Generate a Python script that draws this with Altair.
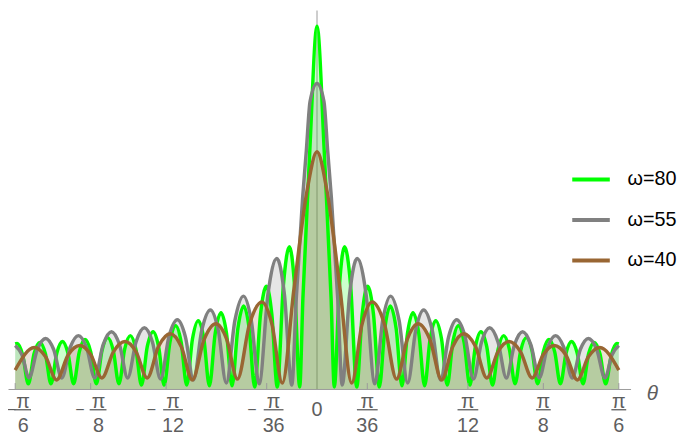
import altair as alt
import pandas as pd

# ---- curve samples (right half, theta >= 0; the plot is symmetric) ----
series_labels = ["ω=80", "ω=55", "ω=40"]
series_colors = ["#00ff00", "#808080", "#996633"]

green_theta = [0.0, 0.0130, 0.0245, 0.0300, 0.0389, 0.0478, 0.0584, 0.0689, 0.0784, 0.0878,
               0.0980, 0.1082, 0.1177, 0.1272, 0.1373, 0.1474, 0.1570, 0.1665, 0.1766, 0.1867,
               0.1963, 0.2059, 0.2160, 0.2260, 0.2356, 0.2452, 0.2552, 0.2652, 0.2748, 0.2844,
               0.2945, 0.3045, 0.3142, 0.3238, 0.3337, 0.3436, 0.3534, 0.3631, 0.3730, 0.3828,
               0.3926, 0.4024, 0.4124, 0.4223, 0.4320, 0.4416, 0.4516, 0.4615, 0.4712, 0.4809,
               0.4909, 0.5008, 0.5106, 0.5203, 0.5236]
green_value = [9.18, 5.88, 2.28, 0.05, 2.61, 3.60, 2.61, 0.05, 1.89, 2.60,
               1.89, 0.05, 1.53, 2.10, 1.53, 0.08, 1.41, 1.93, 1.41, 0.08,
               1.27, 1.73, 1.27, 0.10, 1.18, 1.60, 1.18, 0.10, 1.07, 1.45,
               1.07, 0.10, 1.00, 1.35, 1.01, 0.13, 0.97, 1.30, 0.97, 0.13,
               0.94, 1.25, 0.94, 0.13, 0.90, 1.20, 0.90, 0.13, 0.89, 1.18,
               0.89, 0.13, 0.86, 1.15, 1.14]

gray_theta = [0.0, 0.0120, 0.0185, 0.0249, 0.0360, 0.0437, 0.0566, 0.0696, 0.0850, 0.1003,
              0.1140, 0.1276, 0.1425, 0.1574, 0.1712, 0.1850, 0.1997, 0.2143, 0.2283, 0.2422,
              0.2568, 0.2714, 0.2855, 0.2995, 0.3140, 0.3285, 0.3426, 0.3566, 0.3711, 0.3856,
              0.3998, 0.4139, 0.4283, 0.4427, 0.4568, 0.4709, 0.4853, 0.4997, 0.5117, 0.5236]
gray_value = [7.73, 7.28, 6.03, 4.85, 2.28, 0.10, 2.40, 3.30, 2.41, 0.13,
              1.73, 2.35, 1.73, 0.15, 1.48, 2.00, 1.50, 0.23, 1.32, 1.75,
              1.33, 0.25, 1.19, 1.55, 1.19, 0.28, 1.12, 1.45, 1.12, 0.28,
              1.05, 1.35, 1.05, 0.28, 1.00, 1.28, 1.00, 0.28, 0.86, 1.10]

brown_theta = [0.0, 0.0171, 0.0400, 0.0602, 0.0780, 0.0958, 0.1169, 0.1380, 0.1567, 0.1754,
               0.1959, 0.2164, 0.2354, 0.2544, 0.2746, 0.2947, 0.3139, 0.3331, 0.3532, 0.3732,
               0.3925, 0.4118, 0.4318, 0.4517, 0.4711, 0.4905, 0.5236]
brown_value = [6.00, 5.03, 2.53, 0.15, 1.63, 2.20, 1.65, 0.25, 1.26, 1.65,
               1.25, 0.23, 1.07, 1.40, 1.09, 0.28, 0.94, 1.20, 0.94, 0.28,
               0.87, 1.10, 0.86, 0.23, 0.82, 1.05, 0.48]

# ---- x-axis ticks ----
PI = 3.141592653589793
tick_den = ["6", "8", "12", "36", "36", "12", "8", "6"]
tick_sign = [-1, -1, -1, -1, 1, 1, 1, 1]

rows = []
for lab, th, va in [(series_labels[0], green_theta, green_value),
                    (series_labels[1], gray_theta, gray_value),
                    (series_labels[2], brown_theta, brown_value)]:
    pts = [(-t, v) for t, v in zip(th, va) if t > 0] + list(zip(th, va))
    pts.sort()
    for t, v in pts:
        rows.append({"theta": t, "value": v, "series": lab})
curves = pd.DataFrame(rows)

ticks = pd.DataFrame({
    "theta": [s * PI / float(d) for s, d in zip(tick_sign, tick_den)],
    "den": tick_den,
    "neg": [s < 0 for s in tick_sign],
})

W, H = 630, 383
axis_gray = "#9a9a9a"
label_gray = "#5e5e5e"
FONT = "Liberation Sans"
FS = 20

xscale = alt.Scale(domain=[-0.5361, 0.5440], nice=False, zero=False)
yscale = alt.Scale(domain=[0, 9.575], nice=False, zero=True)
xaxis = alt.Axis(labels=False, ticks=False, grid=False, title=None,
                 domainColor=axis_gray, domainWidth=1)

def X():
    return alt.X("theta:Q", scale=xscale, axis=xaxis)

def Y():
    return alt.Y("value:Q", scale=yscale, axis=None, stack=None)

base = alt.Chart(curves)

yaxis_rule = alt.Chart(pd.DataFrame({"theta": [0.0]})).mark_rule(
    color=axis_gray, strokeWidth=1).encode(x=X())

areas = [
    base.transform_filter(alt.datum.series == lab).mark_area(
        interpolate="monotone", fillOpacity=0.2, color=col
    ).encode(x=X(), y=Y())
    for lab, col in zip(series_labels, series_colors)
]

color = alt.Color(
    "series:N",
    scale=alt.Scale(domain=series_labels, range=series_colors),
    legend=alt.Legend(
        title=None, orient="none", legendX=569, legendY=150,
        symbolType="stroke", symbolSize=1444, symbolStrokeWidth=4,
        symbolOpacity=1, labelFontSize=FS, labelFont=FONT, labelColor="black",
        labelOffset=16, rowPadding=10, padding=0,
    ),
)

lines = [
    base.transform_filter(alt.datum.series == lab).mark_line(
        interpolate="monotone", strokeWidth=3.5
    ).encode(x=X(), y=Y(), color=color)
    for lab in series_labels
]

tick_rules = alt.Chart(ticks).mark_rule(color=axis_gray, strokeWidth=1).encode(
    x=X(), y=alt.value(H - 6), y2=alt.value(H))

tick_src = alt.Chart(ticks)
label_layers = []
# (filter, fraction shift, bar left, bar right)
groups = [
    ("datum.neg && length(datum.den) == 1", 8, -1, 16),
    ("datum.neg && length(datum.den) == 2", 7, -3, 17),
    ("!datum.neg && length(datum.den) == 1", 0, -7.5, 7.5),
    ("!datum.neg && length(datum.den) == 2", 0, -10.5, 10.5),
]
for flt, shift, b0, b1 in groups:
    src = tick_src.transform_filter(flt)
    label_layers.append(src.mark_text(
        text="π", font=FONT, fontSize=FS, color=label_gray, dx=shift, baseline="alphabetic"
    ).encode(x=X(), y=alt.value(H + 19)))
    label_layers.append(src.mark_rule(
        color=label_gray, strokeWidth=1.3, xOffset=b0, x2Offset=b1
    ).encode(x=X(), x2="theta:Q", y=alt.value(H + 21)))
    label_layers.append(src.mark_text(
        font=FONT, fontSize=FS, color=label_gray, dx=shift, baseline="alphabetic"
    ).encode(x=X(), y=alt.value(H + 44), text="den:N"))

for flt, dxm in [("datum.den == '6' && datum.neg", -4),
                 ("datum.den == '8' && datum.neg", -11),
                 ("datum.neg && length(datum.den) == 2", -15)]:
    label_layers.append(tick_src.transform_filter(flt).mark_text(
        text="−", font=FONT, fontSize=16, color=label_gray, dx=dxm, baseline="alphabetic"
    ).encode(x=X(), y=alt.value(H + 26.5)))

zero_lab = alt.Chart(pd.DataFrame({"theta": [0.0], "t": ["0"]})).mark_text(
    font=FONT, fontSize=FS, color=label_gray, baseline="alphabetic"
).encode(x=X(), y=alt.value(H + 27), text="t:N")

theta_lab = alt.Chart(pd.DataFrame({"t": ["θ"]})).mark_text(
    font=FONT, fontSize=21, fontStyle="italic", color=label_gray, baseline="middle"
).encode(x=alt.value(W + 22), y=alt.value(H + 5), text="t:N")

chart = alt.layer(
    yaxis_rule, *areas, *lines, tick_rules, *label_layers, zero_lab, theta_lab
).properties(
    width=W, height=H, autosize="none",
    padding={"left": 0, "top": 0, "right": 47, "bottom": 45},
    background="white",
).configure_view(stroke=None)

chart.save("out.html", embed_options={"renderer": "svg", "actions": False})
